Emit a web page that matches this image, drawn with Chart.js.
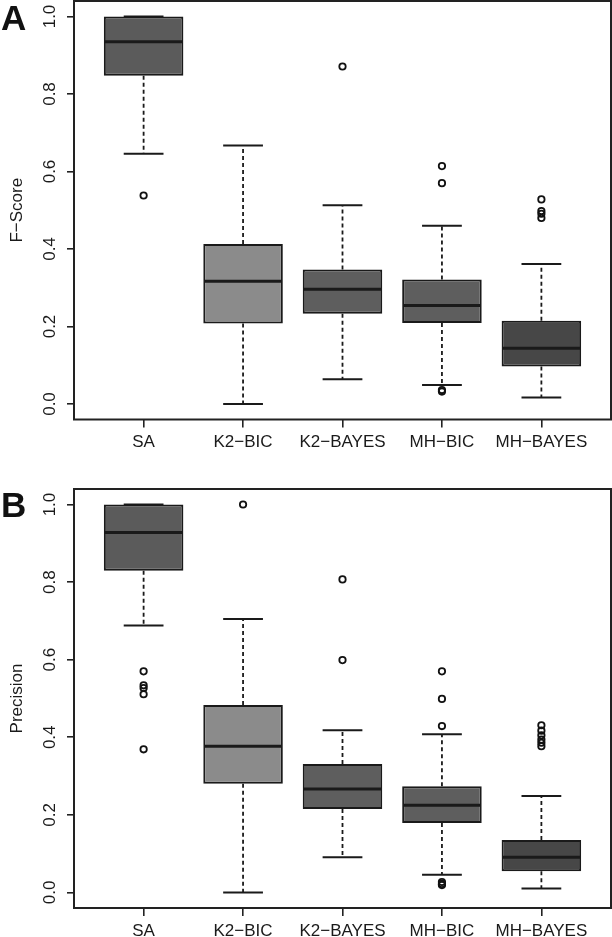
<!DOCTYPE html>
<html><head><meta charset="utf-8">
<script src="https://cdn.jsdelivr.net/npm/chart.js@4.4.1/dist/chart.umd.min.js"></script>
<style>
html,body{margin:0;padding:0;background:#fff;}
body{width:612px;height:937px;position:relative;overflow:hidden;}
.wrap{position:absolute;left:0;width:612px;}
.lab{position:absolute;left:1px;font:bold 35px/1 "Liberation Sans",Arial,sans-serif;color:#111;}
</style></head><body>
<div class="wrap" style="top:0;height:470px"><canvas id="cA" width="612" height="470"></canvas></div>
<div class="wrap" style="top:470px;height:467px"><canvas id="cB" width="612" height="467"></canvas></div>
<div class="lab" style="top:0">A</div>
<div class="lab" style="top:487px">B</div>
<script>
// ---- data ----
const categories = ['SA', 'K2\u2212BIC', 'K2\u2212BAYES', 'MH\u2212BIC', 'MH\u2212BAYES'];
const xPositions = [1, 2, 3, 4, 5];
const yTickValues = [0, 0.2, 0.4, 0.6, 0.8, 1.0];
const yTickLabels = ['0.0', '0.2', '0.4', '0.6', '0.8', '1.0'];

// Panel A: F-Score
const fScoreLower  = [0.646, 0.000, 0.064, 0.049, 0.017];
const fScoreQ1     = [0.847, 0.208, 0.233, 0.209, 0.097];
const fScoreMedian = [0.935, 0.317, 0.296, 0.254, 0.144];
const fScoreQ3     = [1.000, 0.413, 0.347, 0.321, 0.215];
const fScoreUpper  = [1.000, 0.667, 0.513, 0.460, 0.361];
const fScoreOutliers = [[0.538], [], [0.871], [0.614, 0.570, 0.036, 0.032], [0.528, 0.498, 0.491, 0.480]];

// Panel B: Precision
const precLower  = [0.688, 0.000, 0.091, 0.046, 0.010];
const precQ1     = [0.829, 0.280, 0.215, 0.179, 0.055];
const precMedian = [0.928, 0.377, 0.267, 0.225, 0.091];
const precQ3     = [1.000, 0.483, 0.331, 0.274, 0.135];
const precUpper  = [1.000, 0.705, 0.418, 0.408, 0.249];
const precOutliers = [[0.570, 0.534, 0.527, 0.511, 0.369], [1.0], [0.807, 0.599], [0.570, 0.499, 0.429, 0.027, 0.022, 0.019], [0.431, 0.417, 0.405, 0.394, 0.386, 0.377]];

const boxColors = ['#5b5b5b', '#8b8b8b', '#5e5e5e', '#5e5e5e', '#474747'];

const FONT = '"Liberation Sans", Arial, Helvetica, sans-serif';
const INK = '#1a1a1a';

function makeBoxPlugin(d) {
  return {
    id: 'boxWhiskers',
    beforeDatasetsDraw(chart) {
      const ctx = chart.ctx, y = chart.scales.y;
      const meta = chart.getDatasetMeta(0);
      ctx.save();
      ctx.strokeStyle = INK;
      meta.data.forEach((el, i) => {
        const cx = el.x, hw = el.width / 4;
        ctx.lineWidth = 1.8;
        ctx.setLineDash([4, 3]);
        ctx.beginPath();
        ctx.moveTo(cx, y.getPixelForValue(d.q3[i]));
        ctx.lineTo(cx, y.getPixelForValue(d.hi[i]));
        ctx.moveTo(cx, y.getPixelForValue(d.q1[i]));
        ctx.lineTo(cx, y.getPixelForValue(d.lo[i]));
        ctx.stroke();
        ctx.setLineDash([]);
        ctx.lineWidth = 2;
        ctx.beginPath();
        [d.hi[i], d.lo[i]].forEach(v => {
          const py = y.getPixelForValue(v);
          ctx.moveTo(cx - hw, py);
          ctx.lineTo(cx + hw, py);
        });
        ctx.stroke();
      });
      ctx.restore();
    },
    afterDatasetsDraw(chart) {
      const ctx = chart.ctx, y = chart.scales.y;
      const meta = chart.getDatasetMeta(0);
      ctx.save();
      ctx.strokeStyle = INK;
      ctx.lineWidth = 3;
      meta.data.forEach((el, i) => {
        const py = y.getPixelForValue(d.med[i]);
        ctx.beginPath();
        ctx.moveTo(el.x - el.width / 2 + 1, py);
        ctx.lineTo(el.x + el.width / 2 - 1, py);
        ctx.stroke();
      });
      ctx.restore();
    }
  };
}

const framePlugin = {
  id: 'frame',
  afterDraw(chart) {
    const {ctx, chartArea: a} = chart;
    ctx.save();
    ctx.strokeStyle = '#222';
    ctx.lineWidth = 2;
    ctx.strokeRect(a.left, a.top, a.right - a.left, a.bottom - a.top);
    ctx.restore();
  }
};

function boxChart(id, d, yTitle, padTop, xAxisH) {
  const boxData = xPositions.map((x, i) => ({x: x, y: [d.q1[i], d.q3[i]]}));
  const outData = [];
  d.out.forEach((arr, i) => arr.forEach(v => outData.push({x: xPositions[i], y: v})));
  return new Chart(document.getElementById(id), {
    type: 'bar',
    data: {
      datasets: [
        {type: 'bar', data: boxData, backgroundColor: boxColors, borderColor: INK, borderWidth: 2,
         borderSkipped: false, categoryPercentage: 1, barPercentage: 0.8, order: 2},
        {type: 'scatter', data: outData, pointRadius: 3.2, pointBorderWidth: 1.8,
         pointBorderColor: '#111', pointBackgroundColor: 'rgba(0,0,0,0)', order: 1}
      ]
    },
    options: {
      responsive: false, animation: false, events: [],
      layout: {autoPadding: false, padding: {top: padTop, right: 1, left: 0, bottom: 0}},
      plugins: {legend: {display: false}, tooltip: {enabled: false}},
      scales: {
        x: {
          type: 'linear', min: 0.3, max: 5.7, offset: false,
          afterBuildTicks: s => { s.ticks = xPositions.map(v => ({value: v})); },
          afterFit: s => { s.height = xAxisH; s.paddingLeft = 0; s.paddingRight = 0; },
          grid: {offset: false, drawOnChartArea: false, drawTicks: true, tickLength: 8, color: '#222', lineWidth: 1.6},
          border: {display: false},
          ticks: {autoSkip: false, minRotation: 0, maxRotation: 0, padding: 5, color: INK,
                  font: {family: FONT, size: 17},
                  callback: v => categories[xPositions.indexOf(v)]}
        },
        y: {
          type: 'linear', min: -0.04, max: 1.04,
          afterBuildTicks: s => { s.ticks = yTickValues.map(v => ({value: v})); },
          afterFit: s => { s.width = 74; s.paddingTop = 0; s.paddingBottom = 0; },
          grid: {drawOnChartArea: false, drawTicks: true, tickLength: 7, color: '#222', lineWidth: 1.6},
          border: {display: false},
          ticks: {autoSkip: false, minRotation: 90, maxRotation: 90, crossAlign: 'center', padding: 5,
                  color: INK, font: {family: FONT, size: 17},
                  callback: (v, i) => yTickLabels[i]},
          title: {display: true, text: yTitle, color: INK, font: {family: FONT, size: 17},
                  padding: {top: 7, bottom: 0}}
        }
      }
    },
    plugins: [makeBoxPlugin(d), framePlugin]
  });
}

boxChart('cA', {lo: fScoreLower, q1: fScoreQ1, med: fScoreMedian, q3: fScoreQ3, hi: fScoreUpper, out: fScoreOutliers},
         'F\u2212Score', 1, 50.5);
boxChart('cB', {lo: precLower, q1: precQ1, med: precMedian, q3: precQ3, hi: precUpper, out: precOutliers},
         'Precision', 19, 29);
</script>
</body></html>
